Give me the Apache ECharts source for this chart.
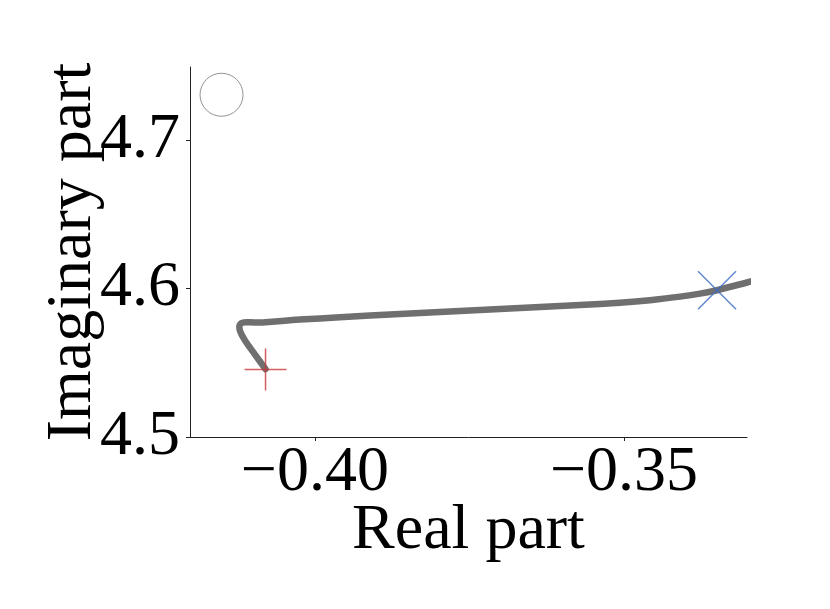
<!DOCTYPE html>
<html>
<head>
<meta charset="utf-8">
<script src="https://cdn.jsdelivr.net/npm/echarts@6/dist/echarts.min.js"></script>
<style>
	html, body { margin: 0; padding: 0; background: #fff; }
	#main { width: 830px; height: 609px; }
</style>
</head>
<body>
<div id="main"></div>
<script>
	// trajectory of the eigenvalue
	var realPart = [-0.40798, -0.40971, -0.41133, -0.41206, -0.41222, -0.41189, -0.41117, -0.40971,
		-0.40841, -0.40696, -0.40485, -0.40243, -0.39595, -0.38625, -0.37654, -0.36683, -0.35712,
		-0.35065, -0.34579, -0.34094, -0.33770, -0.33495, -0.33010, -0.32799];
	var imagPart = [4.5457, 4.5557, 4.5652, 4.5709, 4.5743, 4.5767, 4.5774, 4.5772,
		4.5772, 4.5777, 4.5784, 4.5791, 4.5807, 4.5829, 4.5849, 4.5869, 4.5889,
		4.5905, 4.5922, 4.5946, 4.5966, 4.5989, 4.6041, 4.6064];
	var startPoint = [-0.40798, 4.5454];
	var endPoint = [-0.33495, 4.5989];
	var refPoint = [-0.4151, 4.7306];
	var xTicks = [-0.40, -0.35];
	var yTicks = [4.5, 4.6, 4.7];

	var chart = echarts.init(document.getElementById('main'));
	var font = '"Liberation Serif", "DejaVu Serif", serif';
	var lineData = realPart.map(function (x, i) { return [x, imagPart[i]]; });

	chart.setOption({
		animation: false,
		backgroundColor: '#fff',
		grid: { left: 190, right: 83, top: 67, bottom: 172 },
		xAxis: {
			type: 'value',
			min: -0.4202,
			max: -0.3301,
			name: 'Real part',
			nameLocation: 'middle',
			nameGap: 62,
			nameMoveOverlap: false,
			nameTextStyle: { fontFamily: font, fontSize: 64, color: '#000' },
			axisLine: { lineStyle: { color: '#222', width: 1 } },
			axisTick: { inside: false, length: 4, lineStyle: { color: '#222' }, customValues: xTicks },
			axisLabel: {
				customValues: xTicks,
				margin: 4,
				fontFamily: font, fontSize: 64, color: '#000',
				formatter: function (v) { return (v < 0 ? '\u2212' : '') + Math.abs(v).toFixed(2); }
			},
			splitLine: { show: false }
		},
		yAxis: {
			type: 'value',
			min: 4.5,
			max: 4.7493,
			name: 'Imaginary part',
			nameLocation: 'middle',
			nameGap: 85,
			nameRotate: 90,
			nameMoveOverlap: false,
			nameTextStyle: { fontFamily: font, fontSize: 64, color: '#000' },
			axisLine: { show: true, lineStyle: { color: '#222', width: 1 } },
			axisTick: { show: true, inside: false, length: 4, lineStyle: { color: '#222' }, customValues: yTicks },
			axisLabel: {
				customValues: yTicks,
				margin: 10,
				fontFamily: font, fontSize: 64, color: '#000',
				formatter: function (v) { return v.toFixed(1); }
			},
			splitLine: { show: false }
		},
		series: [
			{
				type: 'line',
				data: lineData,
				showSymbol: false,
				smooth: 0.3,
				clip: true,
				lineStyle: { color: '#6f6f6f', width: 6.5, cap: 'round', join: 'round' },
				z: 2
			},
			{
				type: 'scatter',
				data: [refPoint],
				symbol: 'circle',
				symbolSize: 43,
				itemStyle: { color: 'rgba(0,0,0,0)', borderColor: '#777', borderWidth: 1 },
				z: 3
			},
			{
				type: 'scatter',
				data: [startPoint],
				symbol: 'path://M20,0 L20,40 M0,20 L40,20',
				symbolSize: 42,
				itemStyle: { color: 'rgba(0,0,0,0)', borderColor: '#c8373a', borderWidth: 1.5 },
				z: 4
			},
			{
				type: 'scatter',
				data: [endPoint],
				symbol: 'path://M0,0 L40,40 M40,0 L0,40',
				symbolSize: 38,
				itemStyle: { color: 'rgba(0,0,0,0)', borderColor: '#3b6cc4', borderWidth: 1.5 },
				z: 4
			}
		]
	});
</script>
</body>
</html>
